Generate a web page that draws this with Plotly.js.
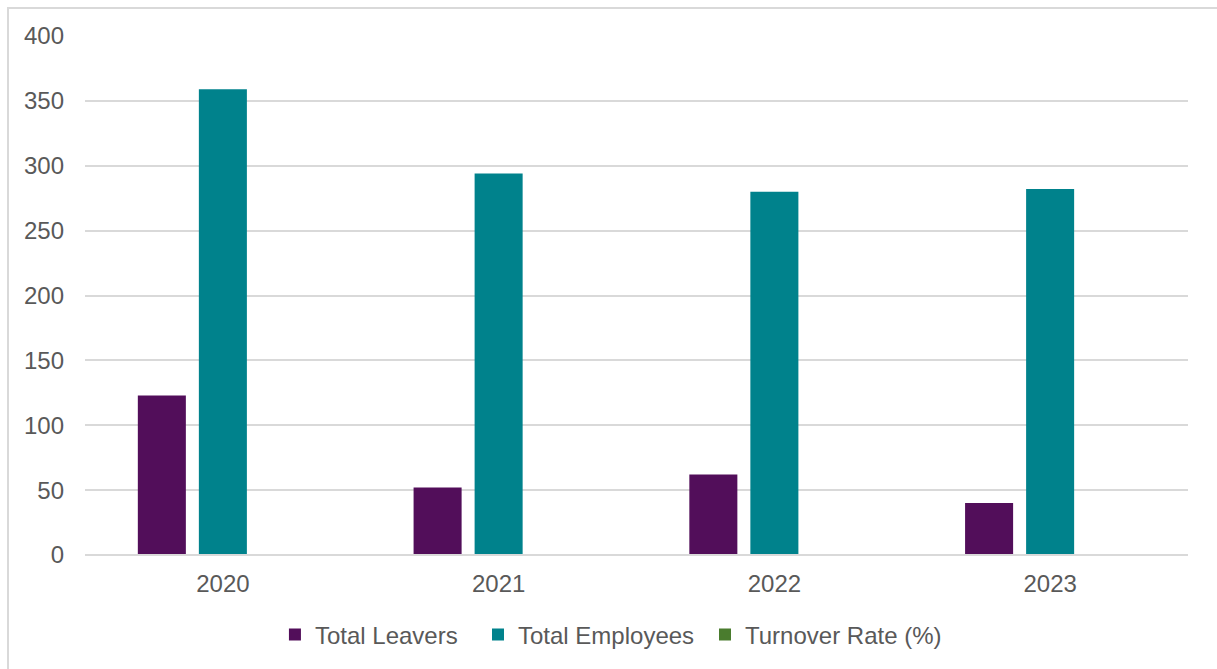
<!DOCTYPE html>
<html>
<head>
<meta charset="utf-8">
<script src="https://cdn.plot.ly/plotly-3.0.1.min.js"></script>
<style>
  html, body { margin: 0; padding: 0; background: #fff; }
  #frame { position: absolute; left: 7px; top: 7px; width: 1214px; height: 670px; border: 2px solid #d9d9d9; box-sizing: border-box; pointer-events: none; z-index: 5; }
  #chart { position: absolute; left: 0; top: 0; width: 1217px; height: 669px; }
</style>
</head>
<body>
<div id="chart"></div>
<div id="frame"></div>
<script>
const years = ['2020', '2021', '2022', '2023'];
const totalLeavers = [123, 52, 62, 40];
const totalEmployees = [359, 294, 280, 282];
const turnoverRate = [0.34, 0.18, 0.22, 0.14];
const yTicks = [0, 50, 100, 150, 200, 250, 300, 350, 400];

const font = { family: 'Liberation Sans, Arial, sans-serif', size: 24, color: '#595959' };

const data = [
  { type: 'bar', name: 'Total Leavers', x: years, y: totalLeavers, marker: { color: '#520e5a' }, legend: 'legend' },
  { type: 'bar', name: 'Total Employees', x: years, y: totalEmployees, marker: { color: '#00828c' }, legend: 'legend2' },
  { type: 'bar', name: 'Turnover Rate (%)', x: years, y: turnoverRate, marker: { color: '#4a7c2e' }, legend: 'legend3' }
];

function leg(x) {
  return { orientation: 'h', x: x, xanchor: 'left', y: -0.154, yanchor: 'middle', font: font, itemwidth: 30, bgcolor: 'rgba(0,0,0,0)' };
}

const layout = {
  width: 1217, height: 669,
  margin: { l: 85, r: 29, t: 36, b: 114 },
  paper_bgcolor: 'rgba(0,0,0,0)', plot_bgcolor: '#fff',
  font: font,
  barmode: 'group',
  bargap: 0.336,
  bargroupgap: 0.213,
  showlegend: true,
  legend: leg(0.1722),
  legend2: leg(0.3563),
  legend3: leg(0.5621),
  shapes: [
    { type: 'line', xref: 'paper', x0: 0, x1: 1, yref: 'y', y0: 0, y1: 0, layer: 'above', line: { color: '#d9d9d9', width: 2 } }
  ],
  xaxis: { type: 'category', showgrid: false, showline: false, ticks: '', ticklabelstandoff: 12, tickfont: font, fixedrange: true },
  yaxis: { range: [0, 400], tickvals: yTicks, ticktext: yTicks.map(String), showgrid: true, gridcolor: '#d9d9d9', gridwidth: 2, zeroline: true, zerolinecolor: '#d9d9d9', zerolinewidth: 2, showline: false, ticks: '', ticklabelstandoff: 20, tickfont: font, fixedrange: true }
};

Plotly.newPlot('chart', data, layout, { displayModeBar: false, staticPlot: true });
</script>
</body>
</html>
